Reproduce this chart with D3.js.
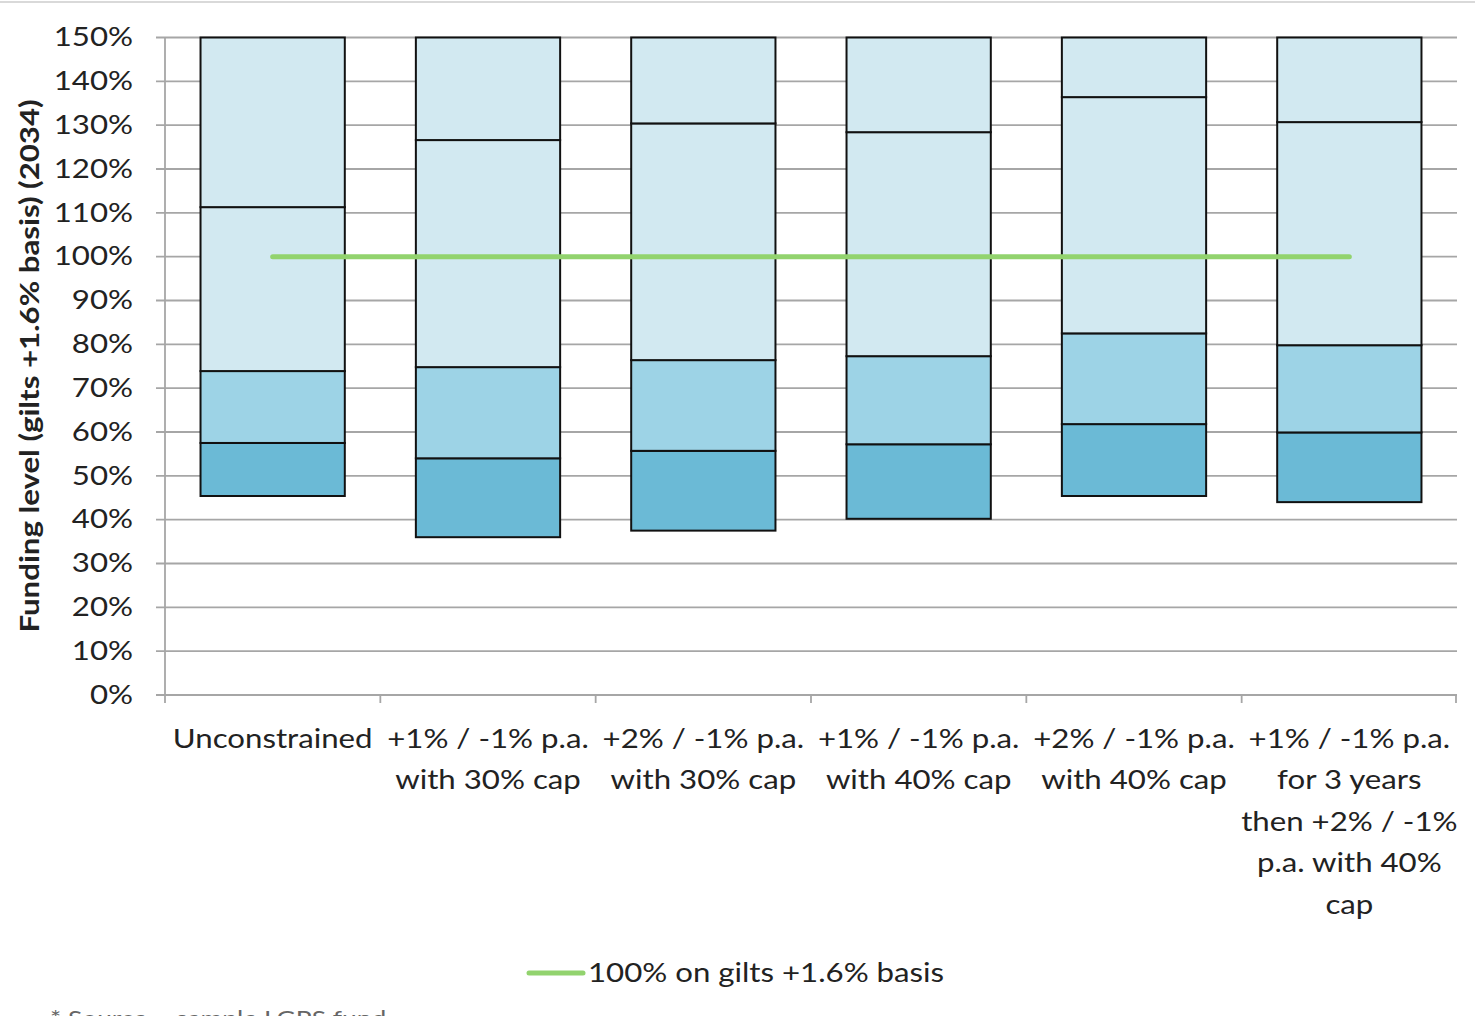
<!DOCTYPE html>
<html>
<head>
<meta charset="utf-8">
<script src="https://cdn.jsdelivr.net/npm/d3@7"></script>
<style>
  html, body { margin: 0; padding: 0; background: #fff; }
  svg { display: block; }
  text { font-family: Lato, "Open Sans", sans-serif; fill: #222; }
</style>
</head>
<body>
<svg id="chart" width="1475" height="1016"></svg>
<script>
// Scenario labels (each entry is a list of lines)
const categories = [
  ["Unconstrained"],
  ["+1% / -1% p.a.", "with 30% cap"],
  ["+2% / -1% p.a.", "with 30% cap"],
  ["+1% / -1% p.a.", "with 40% cap"],
  ["+2% / -1% p.a.", "with 40% cap"],
  ["+1% / -1% p.a.", "for 3 years", "then +2% / -1%", "p.a. with 40%", "cap"]
];

// Funding level band edges (%), bottom to top, per scenario
const bandFloor  = [45.4, 36.0, 37.5, 40.2, 45.4, 44.0];
const bandEdge1  = [57.5, 54.0, 55.7, 57.2, 61.8, 59.9];
const bandEdge2  = [73.9, 74.8, 76.4, 77.3, 82.5, 79.8];
const bandEdge3  = [111.3, 126.6, 130.4, 128.4, 136.4, 130.7];
const bandCeil   = [150, 150, 150, 150, 150, 150];

// Reference level
const targetLevel = 100;
const targetLabel = "100% on gilts +1.6% basis";

const yTicks = d3.range(0, 151, 10);
const yTitle = "Funding level (gilts +1.6% basis) (2034)";
const footnote = "* Source \u2013 sample LGPS fund";

const bandColors = ["#6bbad6", "#9dd3e6", "#d2e9f1", "#d2e9f1"];

// horizontal stretch applied to all text
const SX = 1.2;

const svg = d3.select("#chart");
const W = 1475, H = 1016;
const margin = { left: 165, right: 18, top: 37.5, bottom: 321 };
const plotW = W - margin.left - margin.right;
const plotH = H - margin.top - margin.bottom;

// page frame line along the top
svg.append("line")
  .attr("x1", 0).attr("x2", W).attr("y1", 2).attr("y2", 2)
  .attr("stroke", "#d9d9d9").attr("stroke-width", 2);

const g = svg.append("g").attr("transform", `translate(${margin.left},${margin.top})`);

const x = d3.scaleBand()
  .domain(d3.range(categories.length))
  .range([0, plotW])
  .paddingInner(0.33)
  .paddingOuter(0.165);

const y = d3.scaleLinear().domain([0, 150]).range([plotH, 0]);

// horizontal gridlines
g.append("g").selectAll("line")
  .data(yTicks)
  .join("line")
  .attr("x1", -9).attr("x2", plotW)
  .attr("y1", d => y(d)).attr("y2", d => y(d))
  .attr("stroke", "#a6a6a6").attr("stroke-width", 1.8);

// y axis labels
const yAxis = d3.axisLeft(y).tickValues(yTicks).tickFormat(d => d + "%").tickSize(0).tickPadding(32);
const yAxisG = g.append("g").call(yAxis);
yAxisG.select(".domain").remove();
yAxisG.selectAll("text")
  .style("font-size", "26px").style("font-family", "Lato, sans-serif")
  .attr("fill", "#222")
  .attr("x", -32 / SX)
  .attr("transform", `scale(${SX},1)`);

// y axis line
g.append("line")
  .attr("x1", 0).attr("x2", 0).attr("y1", 0).attr("y2", plotH + 8)
  .attr("stroke", "#a6a6a6").attr("stroke-width", 1.8);

// x axis category boundary ticks
const step = x.step();
g.append("g").selectAll("line")
  .data(d3.range(1, categories.length + 1))
  .join("line")
  .attr("x1", d => Math.min(d * step, plotW - 1)).attr("x2", d => Math.min(d * step, plotW - 1))
  .attr("y1", plotH).attr("y2", plotH + 8)
  .attr("stroke", "#a6a6a6").attr("stroke-width", 1.8);

// stacked band segments
const edges = [bandFloor, bandEdge1, bandEdge2, bandEdge3, bandCeil];
const segments = [];
categories.forEach((c, i) => {
  for (let k = 0; k < 4; k++) {
    segments.push({ i, k, lo: edges[k][i], hi: edges[k + 1][i] });
  }
});

g.append("g").selectAll("rect")
  .data(segments)
  .join("rect")
  .attr("x", d => x(d.i))
  .attr("width", x.bandwidth())
  .attr("y", d => y(d.hi))
  .attr("height", d => y(d.lo) - y(d.hi))
  .attr("fill", d => bandColors[d.k])
  .attr("stroke", "#111")
  .attr("stroke-width", 2);

// reference line across scenario centres
const line = d3.line()
  .x(d => x(d) + x.bandwidth() / 2)
  .y(() => y(targetLevel));
g.append("path")
  .datum(d3.range(categories.length))
  .attr("d", line)
  .attr("fill", "none")
  .attr("stroke", "#92d36e")
  .attr("stroke-width", 5)
  .attr("stroke-linecap", "round");

// category labels
const catG = g.append("g");
categories.forEach((lines, i) => {
  const cx = x(i) + x.bandwidth() / 2;
  const t = catG.append("g")
    .attr("transform", `translate(${cx},${plotH + 53}) scale(${SX},1)`)
    .append("text")
    .attr("text-anchor", "middle")
    .style("font-size", "26px");
  lines.forEach((ln, j) => {
    t.append("tspan")
      .attr("x", 0)
      .attr("dy", j === 0 ? 0 : 41.5)
      .text(ln);
  });
});

// y axis title
svg.append("text")
  .attr("transform", `translate(39,366) rotate(-90) scale(${SX},1)`)
  .attr("text-anchor", "middle")
  .style("font-size", "26px")
  .style("font-weight", "bold")
  .text(yTitle);

// legend
const lg = svg.append("g").attr("transform", "translate(527,973)");
lg.append("line")
  .attr("x1", 2).attr("x2", 56).attr("y1", 0).attr("y2", 0)
  .attr("stroke", "#92d36e").attr("stroke-width", 5).attr("stroke-linecap", "round");
lg.append("text")
  .attr("transform", `translate(61,9) scale(${SX},1)`)
  .style("font-size", "26px")
  .text(targetLabel);

// source note at the foot of the page
svg.append("text")
  .attr("transform", `translate(50,1026) scale(${SX},1)`)
  .style("font-size", "22px")
  .style("fill", "#666")
  .text(footnote);
</script>
</body>
</html>
